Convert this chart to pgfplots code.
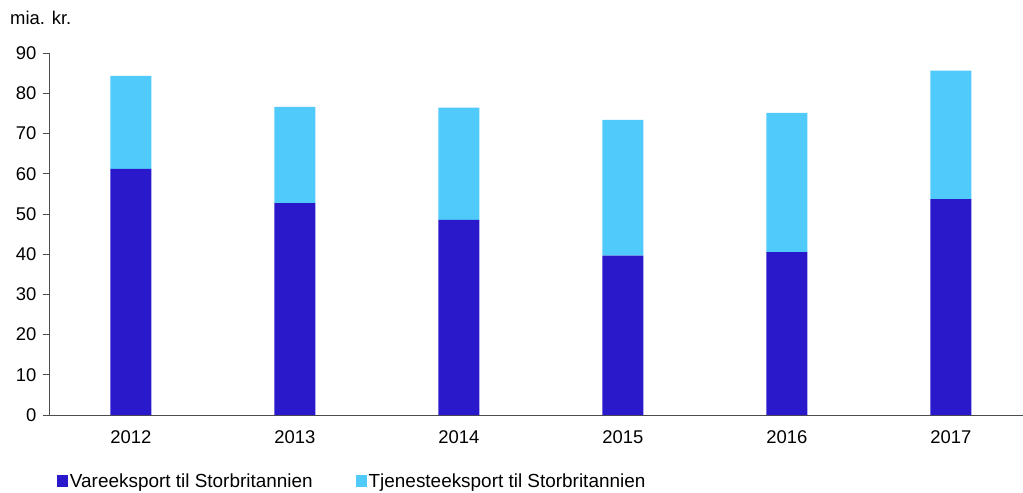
\documentclass[border=0pt]{standalone}
\usepackage{pgfplots}
\pgfplotsset{compat=1.18}
\usepackage{fontspec}
\setmainfont{Liberation Sans}
\definecolor{vare}{RGB}{42,25,203}
\definecolor{tjen}{RGB}{80,202,250}
\begin{document}
\begin{tikzpicture}
\useasboundingbox (-49bp,-78bp) rectangle (974bp,415bp);
\begin{axis}[
    at={(0,0)}, anchor=south west,
    scale only axis,
    width=974bp, height=362bp,
    ybar stacked,
    bar width=41bp,
    xmin=-0.5, xmax=5.44,
    ymin=0, ymax=90,
    ytick={0,10,...,90},
    xtick={0,...,5},
    xticklabels={2012,2013,2014,2015,2016,2017},
    extra x ticks={-0.5,0.5,1.5,2.5,3.5,4.5},
    extra x tick labels={},
    extra x tick style={major tick length=8bp, tick style={draw=black!70}},
    axis x line=bottom, axis y line=left,
    axis line style={-, draw=black!70, line width=0.6pt},
    x tick style={draw=none},
    y tick style={draw=black!70, line width=0.6pt},
    tick align=outside,
    major tick length=6bp,
    yticklabel style={xshift=-3bp},
    xticklabel style={yshift=-6bp},
    tick label style={font=\fontsize{18.5}{22}\selectfont},
    /pgf/number format/assume math mode=true,
    legend style={at={(0.008,-0.183)}, anchor=west, draw=none, inner sep=0pt,
        legend columns=2, font=\fontsize{19}{22}\selectfont,
        /tikz/every even column/.append style={column sep=41bp}},
    legend image code/.code={\fill[#1] (0bp,-6bp) rectangle (11bp,6bp);},
    legend cell align=left,
    clip=false,
]
\addplot[fill=vare, draw=none] coordinates {(0,61.2) (1,52.7) (2,48.5) (3,39.6) (4,40.5) (5,53.7)};
\addplot[fill=tjen, draw=none] coordinates {(0,23.1) (1,23.9) (2,27.9) (3,33.8) (4,34.6) (5,31.9)};
\legend{Vareeksport til Storbritannien, Tjenesteeksport til Storbritannien}
\end{axis}
\node[anchor=west, inner sep=0pt, font=\fontsize{18.5}{22}\selectfont] at (-39bp,397bp) {mia. kr.};
\end{tikzpicture}
\end{document}
